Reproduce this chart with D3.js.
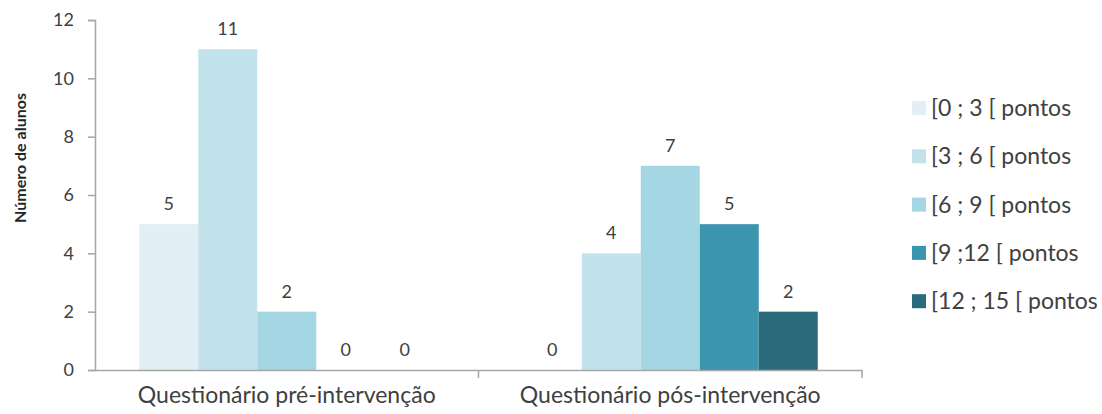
<!DOCTYPE html>
<html><head><meta charset="utf-8">
<script src="https://cdn.jsdelivr.net/npm/d3@7"></script>
<style>body{margin:0;background:#fff}svg{display:block}</style>
</head><body>
<svg id="c" width="1102" height="414"></svg>
<script>
const categories = ["Questionário pré-intervenção", "Questionário pós-intervenção"];
const seriesNames = ["[0 ; 3 [ pontos", "[3 ; 6 [ pontos", "[6 ; 9 [ pontos", "[9 ;12 [ pontos", "[12 ; 15 [ pontos"];
const seriesValues = [
  [5, 0],
  [11, 4],
  [2, 7],
  [0, 5],
  [0, 2]
];
const seriesColors = ["#e2eff4", "#c3e3ec", "#a5d6e4", "#3c95ae", "#296b7a"];
const yTicks = [0, 2, 4, 6, 8, 10, 12];
const yTitle = "Número de alunos";

(function () {
const svg = d3.select("#c");
const font = "Lato, 'Open Sans', sans-serif";
const textCol = "#404040";
const mLeft = 95, mRight = 862, mTop = 20, mBottom = 370;

const x0 = d3.scaleBand().domain(categories).range([mLeft, mRight]).paddingInner(0).paddingOuter(0);
const x1 = d3.scaleBand().domain(d3.range(seriesNames.length)).range([0, x0.bandwidth()]).paddingOuter(0.75).paddingInner(0);
const y = d3.scaleLinear().domain([0, 12]).range([mBottom, mTop]);

const data = [];
categories.forEach((c, ci) => seriesValues.forEach((vals, si) => data.push({c, si, v: vals[ci]})));
svg.append("g").selectAll("rect").data(data).join("rect")
  .attr("x", d => x0(d.c) + x1(d.si))
  .attr("y", d => y(d.v))
  .attr("width", x1.bandwidth())
  .attr("height", d => y(0) - y(d.v))
  .attr("fill", d => seriesColors[d.si]);

svg.append("g").selectAll("text").data(data).join("text")
  .attr("x", d => x0(d.c) + x1(d.si) + x1.bandwidth() / 2)
  .attr("y", d => y(d.v) - 14)
  .attr("text-anchor", "middle")
  .attr("font-family", font).attr("font-size", 18).attr("fill", textCol)
  .text(d => d.v);

const yAxis = svg.append("g").attr("transform", `translate(${mLeft},0)`)
  .call(d3.axisLeft(y).tickValues(yTicks).tickSize(7).tickPadding(14));
yAxis.select(".domain").attr("stroke", "#a6a6a6").attr("stroke-width", 1.5);
yAxis.selectAll(".tick line").attr("stroke", "#a6a6a6").attr("stroke-width", 1.5);
yAxis.selectAll(".tick text").attr("font-family", font).attr("font-size", 18).attr("fill", textCol);

const xAxis = svg.append("g").attr("transform", `translate(0,${mBottom})`)
  .call(d3.axisBottom(x0).tickSize(0).tickPadding(17));
xAxis.select(".domain").attr("stroke", "#a6a6a6").attr("stroke-width", 1.5);
xAxis.selectAll(".tick text").attr("font-family", font).attr("font-size", 23).attr("fill", textCol);
svg.append("g").selectAll("line").data(categories).join("line")
  .attr("x1", d => x0(d) + x0.bandwidth()).attr("x2", d => x0(d) + x0.bandwidth())
  .attr("y1", mBottom).attr("y2", mBottom + 8)
  .attr("stroke", "#a6a6a6").attr("stroke-width", 1.5);

svg.append("text")
  .attr("transform", `translate(26,158) rotate(-90)`)
  .attr("text-anchor", "middle")
  .attr("font-family", font).attr("font-size", 16).attr("font-weight", "bold").attr("fill", "#262626")
  .text(yTitle);

const lg = svg.append("g").attr("transform", "translate(912,108)");
const items = lg.selectAll("g").data(seriesNames).join("g")
  .attr("transform", (d, i) => `translate(0,${i * 48.3})`);
items.append("rect").attr("x", 0).attr("y", -7).attr("width", 14).attr("height", 14)
  .attr("fill", (d, i) => seriesColors[i]);
items.append("text").attr("x", 19).attr("y", 0).attr("dy", "0.35em")
  .attr("font-family", font).attr("font-size", 23).attr("fill", textCol)
  .text(d => d);
})();
</script>
</body></html>
